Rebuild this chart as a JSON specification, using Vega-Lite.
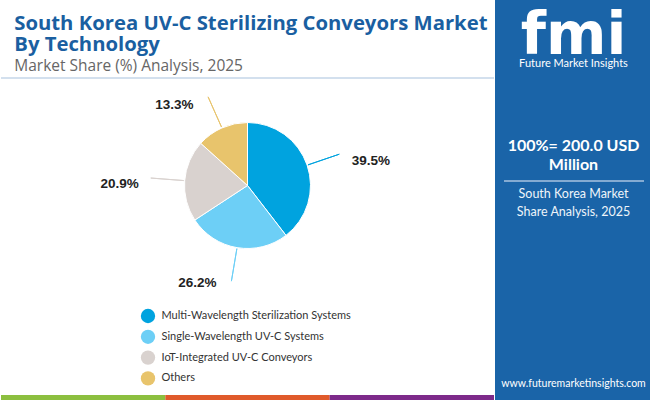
{
  "$schema": "https://vega.github.io/schema/vega-lite/v6.json",
  "background": "white",
  "padding": 0,
  "spacing": 0,
  "config": {"view": {"stroke": null}},
  "hconcat": [
    {
      "spacing": 0,
      "vconcat": [
        {
          "width": 493,
          "height": 78,
          "title": {
            "text": ["South Korea UV-C Sterilizing Conveyors Market", "By Technology"],
            "subtitle": "Market Share (%) Analysis, 2025",
            "anchor": "start",
            "orient": "top",
            "offset": -74,
            "dx": 14,
            "font": "Open Sans",
            "fontSize": 20.3,
            "fontWeight": "bold",
            "lineHeight": 21,
            "color": "#1a5fa1",
            "subtitleFont": "Open Sans",
            "subtitleFontSize": 15.5,
            "subtitleColor": "#666666",
            "subtitlePadding": 3
          },
          "data": {"values": [{"divider": "title"}]},
          "mark": {"type": "rule", "color": "#c5d6e8", "strokeWidth": 1.5},
          "encoding": {
            "y": {"datum": 0, "type": "quantitative", "scale": {"domain": [0, 1]}, "axis": null}
          }
        },
        {
          "spacing": 98,
          "vconcat": [
            {
              "width": 493,
              "height": 213,
              "data": {
                "values": [
                  {"tech": "Multi-Wavelength Sterilization Systems", "share": 0.395},
                  {"tech": "Single-Wavelength UV-C Systems", "share": 0.262},
                  {"tech": "IoT-Integrated UV-C Conveyors", "share": 0.209},
                  {"tech": "Others", "share": 0.133}
                ]
              },
              "layer": [
                {
                  "mark": {"type": "arc", "radius": 63, "stroke": "white", "strokeWidth": 1},
                  "encoding": {
                    "theta": {"field": "share", "type": "quantitative", "stack": true},
                    "order": {"field": "share", "sort": "descending"},
                    "color": {
                      "field": "tech",
                      "type": "nominal",
                      "scale": {
                        "domain": ["Multi-Wavelength Sterilization Systems", "Single-Wavelength UV-C Systems", "IoT-Integrated UV-C Conveyors", "Others"],
                        "range": ["#00a3df", "#6dcff6", "#d9d2cf", "#e8c46c"]
                      },
                      "legend": {
                        "title": null,
                        "orient": "none",
                        "legendX": 139.5,
                        "legendY": 308.5,
                        "padding": 0,
                        "direction": "vertical",
                        "symbolType": "circle",
                        "symbolSize": 205,
                        "symbolStrokeWidth": 0,
                        "labelFont": "Lato",
                        "labelFontSize": 11,
                        "labelLimit": 400,
                        "labelColor": "#333333",
                        "labelOffset": 6,
                        "rowPadding": 5.8
                      }
                    }
                  }
                },
                {
                  "mark": {"type": "arc", "radius": 97, "radius2": 64, "padAngle": 3, "filled": false, "strokeWidth": 1},
                  "encoding": {
                    "theta": {"field": "share", "type": "quantitative", "stack": true},
                    "order": {"field": "share", "sort": "descending"},
                    "color": {"field": "tech", "type": "nominal"}
                  }
                },
                {
                  "mark": {"type": "text", "radius": 97, "dx": 12.5, "dy": 7, "align": "left", "baseline": "middle", "font": "Liberation Sans", "fontSize": 13.5, "fontWeight": "bold", "color": "#222222"},
                  "encoding": {
                    "theta": {"field": "share", "type": "quantitative", "stack": true},
                    "order": {"field": "share", "sort": "descending"},
                    "detail": {"field": "tech"},
                    "text": {"condition": {"test": "datum.tech === 'Multi-Wavelength Sterilization Systems'", "field": "share", "type": "quantitative", "format": ".1%"}, "value": ""}
                  }
                },
                {
                  "mark": {"type": "text", "radius": 97, "dx": -15, "dy": 2, "align": "right", "baseline": "middle", "font": "Liberation Sans", "fontSize": 13.5, "fontWeight": "bold", "color": "#222222"},
                  "encoding": {
                    "theta": {"field": "share", "type": "quantitative", "stack": true},
                    "order": {"field": "share", "sort": "descending"},
                    "detail": {"field": "tech"},
                    "text": {"condition": {"test": "datum.tech === 'Single-Wavelength UV-C Systems'", "field": "share", "type": "quantitative", "format": ".1%"}, "value": ""}
                  }
                },
                {
                  "mark": {"type": "text", "radius": 97, "dx": -12, "dy": 6, "align": "right", "baseline": "middle", "font": "Liberation Sans", "fontSize": 13.5, "fontWeight": "bold", "color": "#222222"},
                  "encoding": {
                    "theta": {"field": "share", "type": "quantitative", "stack": true},
                    "order": {"field": "share", "sort": "descending"},
                    "detail": {"field": "tech"},
                    "text": {"condition": {"test": "datum.tech === 'IoT-Integrated UV-C Conveyors'", "field": "share", "type": "quantitative", "format": ".1%"}, "value": ""}
                  }
                },
                {
                  "mark": {"type": "text", "radius": 97, "dx": -14.5, "dy": 8.5, "align": "right", "baseline": "middle", "font": "Liberation Sans", "fontSize": 13.5, "fontWeight": "bold", "color": "#222222"},
                  "encoding": {
                    "theta": {"field": "share", "type": "quantitative", "stack": true},
                    "order": {"field": "share", "sort": "descending"},
                    "detail": {"field": "tech"},
                    "text": {"condition": {"test": "datum.tech === 'Others'", "field": "share", "type": "quantitative", "format": ".1%"}, "value": ""}
                  }
                }
              ]
            },
            {
              "width": 493,
              "height": 5,
              "data": {
                "values": [
                  {"seg": "s1", "w": 1},
                  {"seg": "s2", "w": 1},
                  {"seg": "s3", "w": 1}
                ]
              },
              "mark": {"type": "bar"},
              "encoding": {
                "x": {"field": "w", "type": "quantitative", "stack": "zero", "axis": null, "scale": {"nice": false}},
                "y": {"datum": "strip", "type": "nominal", "axis": null, "scale": {"paddingInner": 0, "paddingOuter": 0}},
                "order": {"field": "seg", "sort": "ascending"},
                "fill": {"field": "seg", "type": "nominal", "legend": null, "scale": {"domain": ["s1", "s2", "s3"], "range": ["#8cbf3f", "#e05a2b", "#7d2a8a"]}}
              }
            }
          ]
        }
      ]
    },
    {
      "width": 157,
      "height": 400,
      "view": {"fill": "#1a64a8", "stroke": null},
      "layer": [
        {
          "data": {"values": [{"text": "fmi"}]},
          "mark": {"type": "text", "font": "DejaVu Sans", "fontWeight": "bold", "fontSize": 58, "color": "white", "baseline": "alphabetic"},
          "encoding": {
            "text": {"field": "text"},
            "y": {"datum": 54, "type": "quantitative", "scale": {"domain": [0, 400], "reverse": true, "nice": false, "zero": false}, "axis": null}
          }
        },
        {
          "data": {"values": [{"text": "Future Market Insights"}]},
          "mark": {"type": "text", "font": "Lato", "fontSize": 11, "color": "white", "baseline": "middle"},
          "encoding": {"text": {"field": "text"}, "y": {"datum": 64, "type": "quantitative"}}
        },
        {
          "data": {"values": [{"text": "100%= 200.0 USD"}]},
          "mark": {"type": "text", "font": "Lato", "fontSize": 16, "fontWeight": "bold", "color": "white", "baseline": "middle"},
          "encoding": {"text": {"field": "text"}, "y": {"datum": 146, "type": "quantitative"}}
        },
        {
          "data": {"values": [{"text": "Million"}]},
          "mark": {"type": "text", "font": "Lato", "fontSize": 16, "fontWeight": "bold", "color": "white", "baseline": "middle"},
          "encoding": {"text": {"field": "text"}, "y": {"datum": 164.5, "type": "quantitative"}}
        },
        {
          "data": {"values": [{"divider": "info"}]},
          "mark": {"type": "rule", "color": "#a9c3e0", "strokeWidth": 1.5},
          "encoding": {
            "x": {"datum": 9, "type": "quantitative", "scale": {"domain": [0, 157], "nice": false, "zero": false}, "axis": null},
            "x2": {"datum": 149},
            "y": {"datum": 181, "type": "quantitative"}
          }
        },
        {
          "data": {"values": [{"text": "South Korea Market"}]},
          "mark": {"type": "text", "font": "Lato", "fontSize": 12.5, "color": "#eef4fa", "baseline": "middle"},
          "encoding": {"text": {"field": "text"}, "y": {"datum": 194, "type": "quantitative"}}
        },
        {
          "data": {"values": [{"text": "Share Analysis, 2025"}]},
          "mark": {"type": "text", "font": "Lato", "fontSize": 12.5, "color": "#eef4fa", "baseline": "middle"},
          "encoding": {"text": {"field": "text"}, "y": {"datum": 211.5, "type": "quantitative"}}
        },
        {
          "data": {"values": [{"text": "www.futuremarketinsights.com"}]},
          "mark": {"type": "text", "font": "Lato", "fontSize": 10.5, "color": "white", "baseline": "middle"},
          "encoding": {"text": {"field": "text"}, "y": {"datum": 383.5, "type": "quantitative"}}
        }
      ]
    }
  ]
}
